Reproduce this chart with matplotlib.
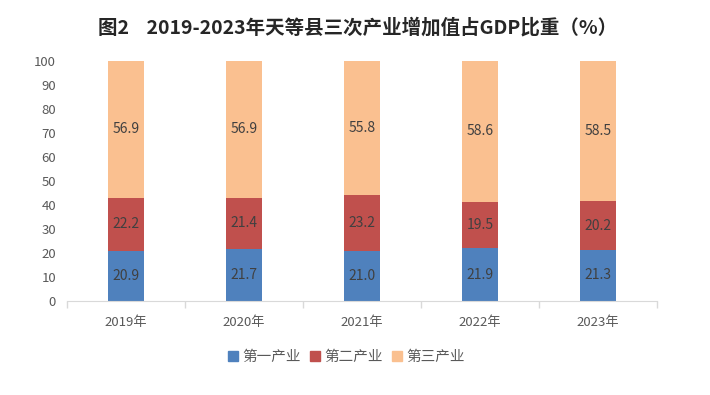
import numpy as np
import matplotlib
matplotlib.use("Agg")
import matplotlib.pyplot as plt
from matplotlib.patches import Patch

plt.rcParams['font.family'] = ['Noto Sans CJK SC', 'DejaVu Sans']

years = ['2019年', '2020年', '2021年', '2022年', '2023年']
primary = [20.9, 21.7, 21.0, 21.9, 21.3]
secondary = [22.2, 21.4, 23.2, 19.5, 20.2]
tertiary = [56.9, 56.9, 55.8, 58.6, 58.5]
series_names = ['第一产业', '第二产业', '第三产业']
colors = ['#4F81BD', '#C0504D', '#FAC090']

fig = plt.figure(figsize=(7.1, 3.95), dpi=100)
ax = fig.add_axes([0.0944, 0.238, 0.831, 0.6076])

x = np.arange(len(years))
w = 0.305
bottom = np.zeros(len(years))
for vals, c in zip([primary, secondary, tertiary], colors):
    ax.bar(x, vals, w, bottom=bottom, color=c, linewidth=0)
    # value labels in the middle of each segment
    for xi, b, v in zip(x, bottom, vals):
        ax.text(xi, b + v / 2, f'{v:.1f}', ha='center', va='center',
                fontsize=10, color='#404040')
    bottom = bottom + np.array(vals)

ax.set_xlim(-0.5, len(years) - 0.5)
ax.set_ylim(0, 100)
ax.set_yticks(range(0, 101, 10))
ax.tick_params(axis='y', length=0, labelsize=9.5, labelcolor='#595959', pad=8)
ax.set_xticks(x)
ax.set_xticklabels(years)
ax.tick_params(axis='x', which='major', length=0, labelsize=9.5,
               labelcolor='#595959', pad=11)
ax.set_xticks(np.arange(-0.5, len(years), 1), minor=True)
ax.tick_params(axis='x', which='minor', length=5, color='#D9D9D9', width=1)

for s in ['top', 'right', 'left']:
    ax.spines[s].set_visible(False)
ax.spines['bottom'].set_color('#D9D9D9')

handles = [Patch(color=c) for c in colors]
fig.legend(handles, series_names, loc='center', bbox_to_anchor=(0.488, 0.096),
           ncol=3, frameon=False, fontsize=10.5, handlelength=0.7,
           handleheight=0.7, handletextpad=0.3, columnspacing=0.6,
           labelcolor='#595959')

fig.text(0.503, 0.93, '图2    2019-2023年天等县三次产业增加值占GDP比重（%）',
         ha='center', va='center', fontsize=14, fontweight='bold',
         color='#262626')

fig.savefig('out.png', dpi=100)
